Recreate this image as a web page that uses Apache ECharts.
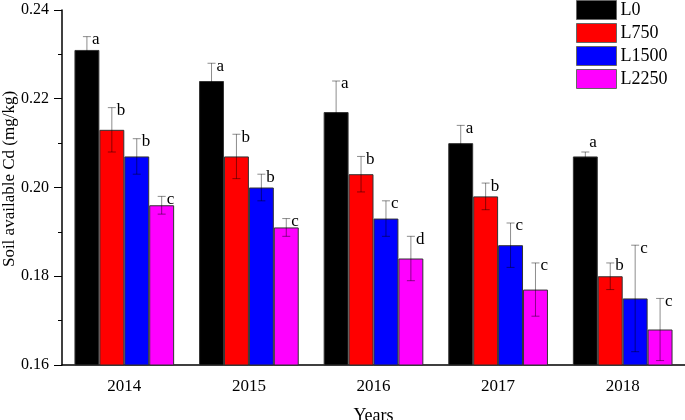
<!DOCTYPE html>
<html>
<head>
<meta charset="utf-8">
<title>Soil available Cd</title>
<style type="text/css">
html,body{margin:0;padding:0;background:#fff;}
#chart{width:685px;height:420px;}
</style>
</head>
<body>
<div id="chart"></div>
<script type="text/javascript" src="https://cdn.jsdelivr.net/npm/echarts@6/dist/echarts.min.js"></script>
<script type="text/javascript">
// data
var years = ['2014', '2015', '2016', '2017', '2018'];
var names = ['L0', 'L750', 'L1500', 'L2250'];
var colors = ['#000000', '#ff0000', '#0000ff', '#ff00ff'];

var L0     = [0.231, 0.224, 0.217, 0.210, 0.207];
var L750   = [0.213, 0.207, 0.203, 0.198, 0.180];
var L1500  = [0.207, 0.200, 0.193, 0.187, 0.175];
var L2250  = [0.196, 0.191, 0.184, 0.177, 0.168];

var L0_err    = [0.003, 0.004, 0.007, 0.004, 0.001];
var L750_err  = [0.005, 0.005, 0.004, 0.003, 0.003];
var L1500_err = [0.004, 0.003, 0.004, 0.005, 0.012];
var L2250_err = [0.002, 0.002, 0.005, 0.006, 0.007];

var L0_sig    = ['a', 'a', 'a', 'a', 'a'];
var L750_sig  = ['b', 'b', 'b', 'b', 'b'];
var L1500_sig = ['b', 'b', 'c', 'c', 'c'];
var L2250_sig = ['c', 'c', 'd', 'c', 'c'];

var yTicks = { min: 0.16, max: 0.24, step: 0.02 };
var yTitle = 'Soil available Cd (mg/kg)';

var values = [L0, L750, L1500, L2250];
var errs = [L0_err, L750_err, L1500_err, L2250_err];
var sigs = [L0_sig, L750_sig, L1500_sig, L2250_sig];

var font = '"Liberation Serif", "Times New Roman", serif';

// error bar + letter rows: [cat, value, err, seriesIndex, letter]
var errData = [];
for (var s = 0; s < values.length; s++) {
    for (var i = 0; i < years.length; i++) {
        errData.push([i, values[s][i], errs[s][i], s, sigs[s][i]]);
    }
}

function renderErr(params, api) {
    var cat = api.value(0), v = api.value(1), e = api.value(2), s = api.value(3);
    var letter = errData[params.dataIndex][4];
    var band = api.size([1, 0])[0];
    var barW = band * 0.8 / names.length;
    var c = api.coord([cat, v]);
    var x = c[0] + (s - (names.length - 1) / 2) * barW;
    var top = api.coord([cat, v + e])[1];
    var bot = api.coord([cat, v - e])[1];
    var cap = 4;
    var st = { stroke: 'rgba(0,0,0,0.45)', lineWidth: 1 };
    var lx = x + 5, ly = top + 3;
    if (e < 0.002) { lx = x + 4; ly = top - 9; }
    return {
        type: 'group',
        children: [
            { type: 'line', shape: { x1: x, y1: top, x2: x, y2: bot }, style: st },
            { type: 'line', shape: { x1: x - cap, y1: top, x2: x + cap, y2: top }, style: st },
            { type: 'line', shape: { x1: x - cap, y1: bot, x2: x + cap, y2: bot }, style: st },
            { type: 'text', x: lx, y: ly, style: {
                text: letter, fill: '#000', font: '17px ' + font,
                textAlign: 'left', textVerticalAlign: 'middle' } }
        ]
    };
}

var series = [];
for (var k = 0; k < names.length; k++) {
    series.push({
        name: names[k],
        type: 'bar',
        data: values[k],
        barGap: '0%',
        barCategoryGap: '20%',
        itemStyle: { color: colors[k], borderColor: '#333', borderWidth: 1 },
        emphasis: { disabled: true }
    });
}
series.push({
    type: 'custom',
    renderItem: renderErr,
    data: errData,
    encode: { x: 0, y: 1 },
    z: 10,
    silent: true
});

var option = {
    animation: false,
    color: colors,
    textStyle: { fontFamily: font },
    grid: { left: 62, right: 0, top: 10, bottom: 55, containLabel: false, outerBoundsMode: 'none' },
    // y axis title as graphic text so it sits where the original does
    graphic: [{
        type: 'text',
        x: 10,
        y: 179,
        rotation: Math.PI / 2,
        style: {
            text: yTitle, fill: '#000', font: '17px ' + font,
            textAlign: 'center', textVerticalAlign: 'middle'
        }
    }],
    legend: {
        orient: 'vertical',
        left: 576,
        top: 0,
        padding: 0,
        itemWidth: 40,
        itemHeight: 19,
        itemGap: 3,
        icon: 'rect',
        data: names,
        itemStyle: { borderColor: '#666', borderWidth: 1 },
        textStyle: { fontFamily: font, fontSize: 18, color: '#000', padding: [0, 0, 0, -1] }
    },
    xAxis: [{
        type: 'category',
        data: years,
        name: 'Years',
        nameLocation: 'middle',
        nameGap: 42,
        nameTextStyle: { fontFamily: font, fontSize: 18, color: '#000' },
        axisLine: { lineStyle: { color: '#000', width: 1.5 } },
        axisTick: { alignWithLabel: true, length: 8, lineStyle: { color: '#000' } },
        axisLabel: { fontFamily: font, fontSize: 17, color: '#000', margin: 13 }
    }, {
        type: 'category',
        data: years,
        position: 'bottom',
        axisLine: { show: false },
        axisTick: { length: 4, lineStyle: { color: '#000' } },
        axisLabel: { show: false }
    }],
    yAxis: {
        type: 'value',
        min: yTicks.min,
        max: yTicks.max,
        interval: yTicks.step,
        axisLine: { show: true, lineStyle: { color: '#000', width: 1.5 } },
        axisTick: { show: true, length: 8, lineStyle: { color: '#000' } },
        minorTick: { show: true, splitNumber: 2, length: 4, lineStyle: { color: '#000' } },
        splitLine: { show: false },
        axisLabel: {
            fontFamily: font, fontSize: 16, color: '#000', margin: 13,
            formatter: function (v) { return v.toFixed(2); }
        }
    },
    series: series
};

var myChart = echarts.init(document.getElementById('chart'));
myChart.setOption(option);
</script>
</body>
</html>
